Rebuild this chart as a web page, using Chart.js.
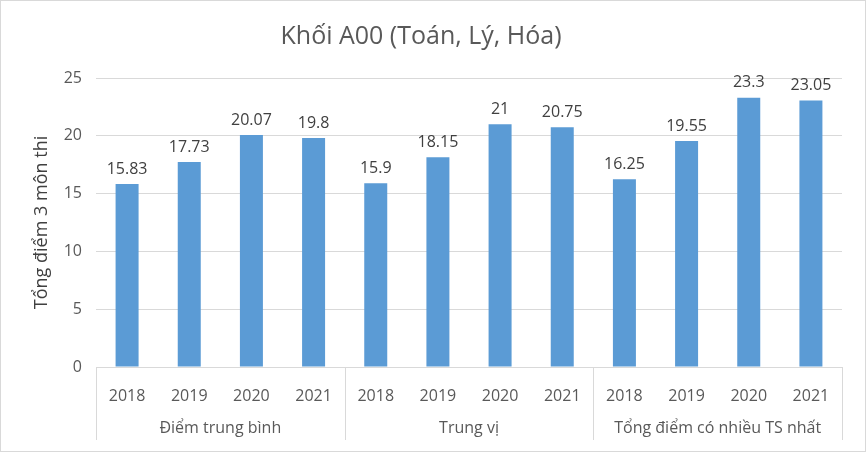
<!DOCTYPE html>
<html>
<head>
<meta charset="utf-8">
<script src="https://cdn.jsdelivr.net/npm/chart.js@4/dist/chart.umd.min.js"></script>
<style>
  html, body { margin: 0; padding: 0; background: #fff; }
  #wrap { width: 866px; height: 452px; position: relative; }
</style>
</head>
<body>
<div id="wrap"><canvas id="c"></canvas></div>
<script>
var years  = ['2018', '2019', '2020', '2021'];
var groups = ['Điểm trung bình', 'Trung vị', 'Tổng điểm có nhiều TS nhất'];
var avgScores    = [15.83, 17.73, 20.07, 19.8];
var medianScores = [15.9, 18.15, 21, 20.75];
var modeScores   = [16.25, 19.55, 23.3, 23.05];
var valueLabels  = ['15.83', '17.73', '20.07', '19.8', '15.9', '18.15', '21', '20.75', '16.25', '19.55', '23.3', '23.05'];

var FONT = "'Open Sans', 'Noto Sans', sans-serif";
var GRID = '#d9d9d9';
var TEXT = '#595959';

var labels = [];
var values = [];
[avgScores, medianScores, modeScores].forEach(function (arr) {
  arr.forEach(function (v, i) {
    labels.push(years[i]);
    values.push(v);
  });
});

// draws the group row, the separators and the value labels
var extras = {
  id: 'extras',
  afterDatasetsDraw: function (chart) {
    var ctx = chart.ctx,
        x = chart.scales.x,
        area = chart.chartArea,
        meta = chart.getDatasetMeta(0);

    ctx.save();
    ctx.font = '16px ' + FONT;
    ctx.fillStyle = '#404040';
    ctx.textAlign = 'center';
    ctx.textBaseline = 'bottom';
    meta.data.forEach(function (bar, i) {
      ctx.fillText(valueLabels[i], bar.x, bar.y - 7);
    });

    var n = years.length, edges = [area.left];
    for (var g = 1; g < groups.length; g++) {
      edges.push((x.getPixelForValue(g * n - 1) + x.getPixelForValue(g * n)) / 2);
    }
    edges.push(area.right);

    ctx.strokeStyle = GRID;
    ctx.lineWidth = 1;
    edges.forEach(function (ex) {
      var px = Math.round(ex) + 0.5;
      ctx.beginPath();
      ctx.moveTo(px, area.bottom);
      ctx.lineTo(px, 440);
      ctx.stroke();
    });

    ctx.fillStyle = TEXT;
    ctx.textBaseline = 'middle';
    groups.forEach(function (name, g) {
      ctx.fillText(name, (edges[g] + edges[g + 1]) / 2, 428);
    });

    ctx.strokeStyle = GRID;
    ctx.strokeRect(0.5, 0.5, chart.width - 1, chart.height - 1);
    ctx.restore();
  }
};

new Chart(document.getElementById('c'), {
  type: 'bar',
  data: {
    labels: labels,
    datasets: [{
      data: values,
      backgroundColor: '#5b9bd5',
      barPercentage: 0.37,
      categoryPercentage: 1
    }]
  },
  options: {
    responsive: true,
    maintainAspectRatio: false,
    animation: false,
    layout: { padding: { left: 0, right: 24, top: 0, bottom: 0 } },
    plugins: {
      legend: { display: false },
      tooltip: { enabled: false },
      title: {
        display: true,
        text: 'Khối A00 (Toán, Lý, Hóa)',
        color: TEXT,
        font: { family: FONT, size: 25, weight: 'normal' },
        padding: { top: 22, bottom: 26 }
      }
    },
    scales: {
      x: {
        grid: { display: false },
        border: { display: true, color: GRID },
        ticks: { color: TEXT, font: { family: FONT, size: 16 }, padding: 12, maxRotation: 0, autoSkip: false },
        afterFit: function (s) { s.height = 85; }
      },
      y: {
        min: 0,
        max: 25,
        ticks: { stepSize: 5, color: TEXT, font: { family: FONT, size: 16 }, padding: 14 },
        grid: { color: GRID, drawTicks: false },
        border: { display: false },
        title: {
          display: true,
          text: 'Tổng điểm 3 môn thi',
          color: '#404040',
          font: { family: FONT, size: 18 },
          padding: { top: 31, bottom: 0 }
        },
        afterFit: function (s) { s.width = 96; }
      }
    }
  },
  plugins: [extras]
});
</script>
</body>
</html>
